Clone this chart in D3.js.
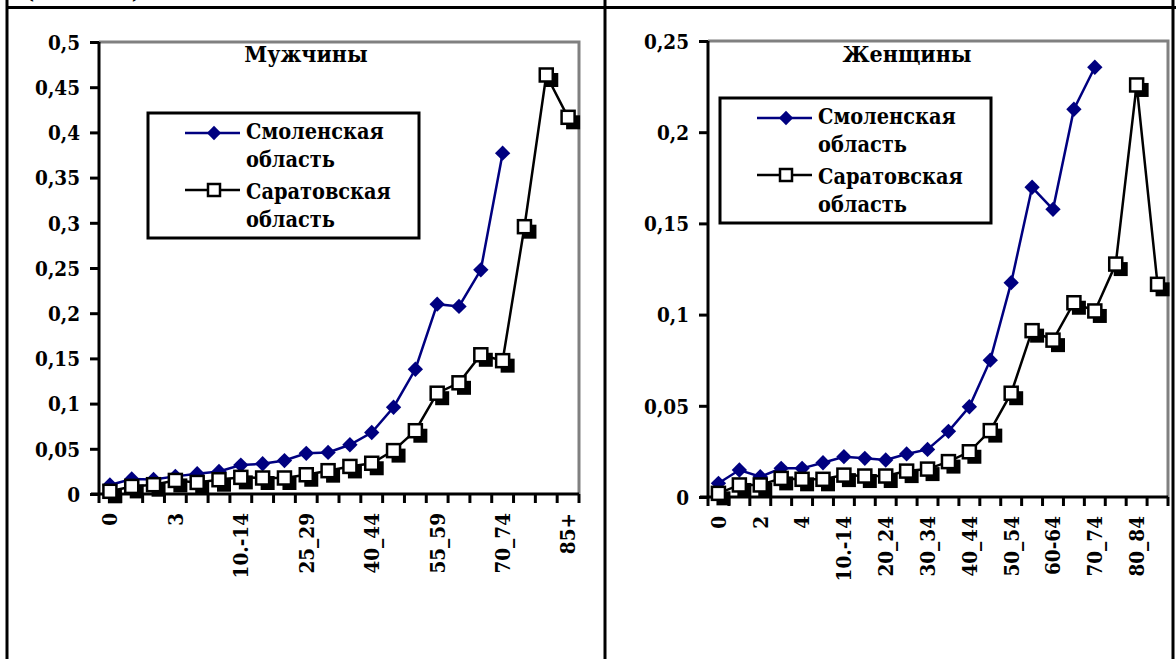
<!DOCTYPE html>
<html><head><meta charset="utf-8">
<script src="https://cdn.jsdelivr.net/npm/d3@7"></script>
<style>
html,body{margin:0;padding:0;background:#fff;}
svg{display:block;}
</style></head>
<body>
<svg id="c" width="1176" height="659"></svg>
<script>
const ageGroups = ["0","1","2","3","4","5_9","10.-14","15_19","20_24","25_29","30_34","35_39","40_44","45_49","50_54","55_59","60-64","65_69","70_74","75_79","80_84","85+"];
const seriesNames = ["Смоленская область", "Саратовская область"];
const menSmolensk = [0.010,0.0166,0.016,0.0195,0.0225,0.025,0.032,0.0335,0.037,0.045,0.046,0.0545,0.068,0.096,0.138,0.21,0.2075,0.248,0.377,null,null,null];
const menSaratov = [0.003,0.0084,0.0103,0.015,0.0128,0.0158,0.0184,0.0177,0.0177,0.0213,0.0258,0.0305,0.034,0.048,0.070,0.1115,0.123,0.154,0.1475,0.2957,0.4635,0.4167];
const womenSmolensk = [0.0075,0.0148,0.0111,0.0157,0.0157,0.0188,0.0221,0.0212,0.0203,0.0236,0.0261,0.036,0.0495,0.075,0.1175,0.1698,0.1577,0.2126,0.2356,null,null,null];
const womenSaratov = [0.002,0.0066,0.0066,0.0102,0.0097,0.0097,0.012,0.0115,0.0115,0.0142,0.0153,0.0194,0.0248,0.0364,0.0569,0.0912,0.086,0.1065,0.102,0.1277,0.2259,0.1166];
const menTicks = [0,0.05,0.1,0.15,0.2,0.25,0.3,0.35,0.4,0.45,0.5];
const womenTicks = [0,0.05,0.1,0.15,0.2,0.25];
const titles = ["Мужчины","Женщины"];
const headerText = "(на 1000)";

const FONT = "DejaVu Serif Condensed";
const svg = d3.select("#c");
const fmt = v => v === 0 ? "0" : String(+v.toFixed(2)).replace(".", ",");
const T = sel => sel.attr("font-family",FONT).attr("font-stretch","condensed").attr("font-weight","bold").attr("fill","#000");

const frame = svg.append("g").attr("stroke","#000").attr("stroke-width",3);
frame.append("line").attr("x1",7).attr("x2",1176).attr("y1",7.5).attr("y2",7.5);
[7,605,1173].forEach(x => frame.append("line").attr("x1",x).attr("x2",x).attr("y1",0).attr("y2",659));
T(svg.append("text").attr("x",24).attr("y",-2).attr("font-size",24).text(headerText));

function chart(cfg){
  const g = svg.append("g");
  const x = d3.scaleBand().domain(ageGroups).range([cfg.x0,cfg.x1]).padding(0);
  const y = d3.scaleLinear().domain([0,cfg.ymax]).range([cfg.y0,cfg.y1]);
  g.append("path").attr("d",`M${cfg.x0},${cfg.y1}H${cfg.x1}V${cfg.y0}`)
    .attr("fill","none").attr("stroke","#808080").attr("stroke-width",3);
  const ya = g.append("g").attr("transform",`translate(${cfg.x0},0)`)
    .call(d3.axisLeft(y).tickValues(cfg.ticks).tickSize(9).tickPadding(10).tickFormat(fmt));
  ya.select(".domain").attr("stroke","#000").attr("stroke-width",3).attr("d",`M0,${cfg.y0+1}V${cfg.y1}`);
  ya.selectAll(".tick line").attr("stroke","#000").attr("stroke-width",3);
  T(ya.selectAll(".tick text")).attr("font-size",20.5).attr("dy","0.36em");
  const xa = g.append("g").attr("transform",`translate(0,${cfg.y0})`)
    .call(d3.axisBottom(x).tickSize(0).tickFormat((d,i)=> i%cfg.every===0 ? d : ""));
  xa.select(".domain").attr("stroke","#000").attr("stroke-width",3).attr("d",`M${cfg.x0-8},0H${cfg.x1}`);
  T(xa.selectAll(".tick text")).attr("font-size",20.5)
    .attr("transform","rotate(-90)").attr("text-anchor","end").attr("x",-cfg.labTop).attr("y",0).attr("dy","0.36em");
  const bounds = ageGroups.map(a => x(a)).concat([cfg.x1]);
  g.append("g").selectAll("line").data(bounds).join("line")
    .attr("x1",d=>d).attr("x2",d=>d).attr("y1",cfg.y0).attr("y2",cfg.y0+9)
    .attr("stroke","#000").attr("stroke-width",3);
  T(g.append("text").attr("x",cfg.titleX).attr("y",62).attr("text-anchor","middle").attr("font-size",23).text(cfg.title));

  const cx = i => x(ageGroups[i]) + x.bandwidth()/2;
  const line = d3.line().defined(d => d!=null).x((d,i)=>cx(i)).y(d=>y(d));
  g.append("path").datum(cfg.s1).attr("d",line).attr("fill","none").attr("stroke","#000080").attr("stroke-width",2.5);
  g.append("g").selectAll("path").data(cfg.s1.map((v,i)=>({v,i})).filter(d=>d.v!=null)).join("path")
    .attr("d",d3.symbol(d3.symbolDiamond2,150)).attr("fill","#000080")
    .attr("transform",d=>`translate(${cx(d.i)},${y(d.v)})`);
  g.append("path").datum(cfg.s2).attr("d",line).attr("fill","none").attr("stroke","#000").attr("stroke-width",2.5);
  const pts = cfg.s2.map((v,i)=>({v,i})).filter(d=>d.v!=null);
  const sq = g.append("g").selectAll("g").data(pts).join("g")
    .attr("transform",d=>`translate(${cx(d.i)},${y(d.v)})`);
  sq.append("rect").attr("x",-2).attr("y",-2).attr("width",14).attr("height",14).attr("fill","#000");
  sq.append("rect").attr("x",-6.5).attr("y",-6.5).attr("width",13).attr("height",13)
    .attr("fill","#fff").attr("stroke","#000").attr("stroke-width",2.5);

  const L = g.append("g").attr("transform",`translate(${cfg.lx},${cfg.ly})`);
  L.append("rect").attr("width",271).attr("height",125).attr("fill","#fff").attr("stroke","#000").attr("stroke-width",3);
  L.append("line").attr("x1",37).attr("x2",92).attr("y1",20).attr("y2",20).attr("stroke","#000080").attr("stroke-width",2.5);
  L.append("path").attr("d",d3.symbol(d3.symbolDiamond2,130)).attr("fill","#000080").attr("transform","translate(66,20)");
  L.append("line").attr("x1",37).attr("x2",92).attr("y1",77).attr("y2",77).attr("stroke","#000").attr("stroke-width",2.5);
  L.append("rect").attr("x",60).attr("y",71).attr("width",12).attr("height",12).attr("fill","#fff").attr("stroke","#000").attr("stroke-width",2.5);
  const words = seriesNames.map(s => s.split(" "));
  [[words[0][0],26],[words[0][1],54],[words[1][0],86],[words[1][1],114]].forEach(([t,yy]) =>
    T(L.append("text").attr("x",98).attr("y",yy).attr("font-size",21.5).text(t)));
}

chart({x0:99,x1:579,y0:494,y1:42,ymax:0.5,ticks:menTicks,every:3,labTop:19,title:titles[0],titleX:306,s1:menSmolensk,s2:menSaratov,lx:148,ly:113});
chart({x0:708,x1:1168,y0:497,y1:41,ymax:0.25,ticks:womenTicks,every:2,labTop:19,title:titles[1],titleX:907,s1:womenSmolensk,s2:womenSaratov,lx:720,ly:98});
</script>
</body></html>
